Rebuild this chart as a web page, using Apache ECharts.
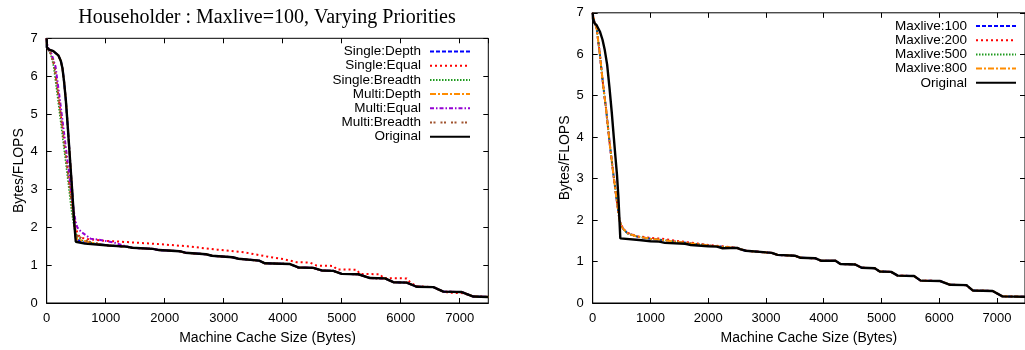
<!DOCTYPE html>
<html>
<head>
<meta charset="utf-8">
<script src="https://cdn.jsdelivr.net/npm/echarts@6/dist/echarts.min.js"></script>
<style>
html,body{margin:0;padding:0;background:#fff;}
#chart{width:1025px;height:350px;}
</style>
</head>
<body>
<div id="chart"></div>
<script>
// ---------- data (x = machine cache size in bytes, y = bytes/FLOPS) ----------
const xTicks = [0, 1000, 2000, 3000, 4000, 5000, 6000, 7000];
const yTicks = [0, 1, 2, 3, 4, 5, 6, 7];
const leftTitle = 'Householder : Maxlive=100, Varying Priorities';
const leftNames = ['Single:Depth', 'Single:Equal', 'Single:Breadth', 'Multi:Depth', 'Multi:Equal', 'Multi:Breadth', 'Original'];
const rightNames = ['Maxlive:100', 'Maxlive:200', 'Maxlive:500', 'Maxlive:800', 'Original'];

// left chart: shared staircase tail (all series except Single:Equal sit on it)
const leftTail = [[1050,1.52],[1350,1.49],[1450,1.46],[1800,1.43],[1900,1.40],[2250,1.37],[2350,1.33],[2700,1.29],[2800,1.25],[3150,1.21],[3250,1.17],[3600,1.12],[3700,1.05],[4124,1.03],[4265,0.94],[4519,0.93],[4661,0.86],[4858,0.85],[5000,0.77],[5282,0.76],[5480,0.66],[5734,0.65],[5876,0.55],[6102,0.54],[6271,0.43],[6554,0.42],[6723,0.30],[7034,0.29],[7232,0.17],[7485,0.16]];
const leftOriginalHead = [[0,7.0],[3,6.76],[40,6.7],[113,6.66],[197,6.55],[240,6.4],[268,6.2],[295,5.85],[325,5.35],[360,4.6],[395,3.8],[435,2.9],[470,2.05],[493,1.62],[520,1.6],[650,1.57],[900,1.54]];
const singleDepthHead = [[0,7.0],[3,6.76],[40,6.7],[113,6.66],[197,6.55],[240,6.4],[268,6.2],[295,5.85],[325,5.35],[360,4.6],[395,3.8],[435,2.9],[470,2.05],[495,1.7],[560,1.64],[700,1.6],[900,1.55]];
const multiDepthHead = [[0,7.0],[3,6.76],[40,6.7],[113,6.66],[197,6.55],[240,6.4],[268,6.2],[295,5.85],[325,5.35],[360,4.6],[395,3.8],[435,2.9],[470,2.05],[495,1.75],[520,1.68],[690,1.62],[900,1.55]];
const singleBreadthHead = [[0,7.0],[5,6.85],[25,6.7],[60,6.6],[90,6.45],[118,6.25],[188,5.4],[256,4.55],[328,3.65],[378,3.0],[415,2.5],[455,2.1],[490,1.85],[520,1.75],[600,1.65],[800,1.58],[1000,1.53]];
const multiEqualHead = [[0,7.0],[5,6.85],[35,6.7],[80,6.6],[110,6.45],[150,6.25],[222,5.4],[290,4.55],[362,3.65],[412,3.0],[452,2.5],[490,2.15],[515,2.02],[540,1.95],[621,1.84],[746,1.7],[858,1.68],[1000,1.64],[1141,1.6],[1300,1.52]];
const multiBreadthHead = [[0,7.0],[5,6.85],[30,6.7],[70,6.6],[100,6.45],[133,6.25],[205,5.4],[273,4.55],[345,3.65],[395,3.0],[434,2.5],[470,2.1],[500,1.85],[519,1.79],[620,1.68],[750,1.61],[900,1.56]];
const singleEqual = [[0,7.0],[5,6.85],[30,6.7],[70,6.6],[100,6.45],[133,6.25],[205,5.4],[273,4.55],[345,3.65],[395,3.0],[434,2.6],[480,2.15],[510,1.9],[540,1.78],[600,1.72],[700,1.69],[944,1.65],[1368,1.61],[1877,1.56],[2385,1.50],[2894,1.41],[3346,1.34],[3800,1.21],[4010,1.16],[4237,1.08],[4463,1.07],[4576,0.99],[4858,0.98],[4915,0.89],[5254,0.88],[5310,0.77],[5650,0.76],[5706,0.66],[6102,0.65],[6158,0.55],[6271,0.44],[6554,0.42],[6723,0.30],[6836,0.27],[7062,0.26],[7232,0.17],[7485,0.16]];

// right chart
const rightTail = [[2500,1.33],[2550,1.30],[2650,1.26],[3003,1.22],[3100,1.21],[3200,1.16],[3500,1.14],[3600,1.09],[3850,1.08],[3950,1.02],[4204,1.02],[4289,0.94],[4544,0.93],[4657,0.85],[4884,0.84],[4969,0.76],[5168,0.75],[5281,0.66],[5564,0.65],[5678,0.54],[6018,0.53],[6188,0.44],[6471,0.43],[6584,0.30],[6924,0.29],[7094,0.16],[7485,0.15]];
const rightOriginalHead = [[0,7.0],[5,6.85],[30,6.75],[68,6.7],[124,6.55],[170,6.35],[209,6.1],[250,5.75],[290,5.2],[330,4.6],[365,4.0],[395,3.5],[420,3.1],[445,2.55],[465,1.95],[478,1.56],[485,1.53],[804,1.52],[1003,1.49],[1150,1.48],[1250,1.45],[1600,1.43],[1700,1.40],[2000,1.37],[2150,1.36],[2250,1.32]];
const maxlive100Head = [[0,7.0],[10,6.9],[30,6.78],[68,6.63],[124,6.0],[181,5.25],[230,4.7],[294,3.85],[350,3.2],[408,2.56],[464,1.99],[521,1.80],[606,1.68],[776,1.60],[1000,1.55],[1200,1.52],[1500,1.47],[2000,1.39],[2300,1.35]];
const maxlive200Head = [[0,7.0],[10,6.9],[30,6.78],[68,6.63],[124,6.0],[181,5.25],[230,4.7],[294,3.85],[350,3.2],[408,2.56],[464,1.99],[521,1.80],[606,1.69],[776,1.61],[1000,1.57],[1200,1.55],[1500,1.49],[2000,1.40],[2300,1.36]];
const maxlive500Head = [[0,7.0],[10,6.9],[30,6.78],[68,6.63],[124,6.0],[181,5.25],[230,4.7],[294,3.85],[350,3.2],[408,2.56],[464,1.99],[521,1.79],[606,1.67],[776,1.60],[1000,1.55],[1200,1.52],[1500,1.47],[2000,1.39],[2300,1.35]];
const maxlive800Head = [[0,7.0],[10,6.9],[30,6.78],[68,6.63],[124,6.0],[181,5.25],[230,4.7],[294,3.85],[350,3.2],[408,2.56],[464,1.99],[521,1.80],[606,1.68],[776,1.60],[1000,1.55],[1200,1.52],[1500,1.47],[2000,1.39],[2300,1.35]];

// ---------- chart ----------
const X_MAX = 7485;
const SANS = 'Liberation Sans';
const chart = echarts.init(document.getElementById('chart'), null, {renderer: 'canvas'});

function xAx(grid, top) {
  return {
    type: 'value', gridIndex: grid, min: xTicks[0], max: X_MAX, interval: xTicks[1] - xTicks[0],
    position: top ? 'top' : 'bottom',
    name: top ? '' : 'Machine Cache Size (Bytes)', nameLocation: 'middle', nameGap: 28,
    nameTextStyle: {fontFamily: SANS, fontSize: 14, color: '#000'},
    axisLine: {show: !top, onZero: false, lineStyle: {color: '#000', width: 1}},
    axisTick: {show: true, inside: true, length: 5, lineStyle: {color: '#000', width: 1}},
    axisLabel: {show: !top, margin: 9, fontFamily: SANS, fontSize: 13, color: '#000', showMaxLabel: false,
      formatter: v => (xTicks.indexOf(v) >= 0 ? String(v) : '')},
    splitLine: {show: false}
  };
}
function yAx(grid, right) {
  return {
    type: 'value', gridIndex: grid, min: yTicks[0], max: yTicks[yTicks.length - 1], interval: 1,
    position: right ? 'right' : 'left',
    name: right ? '' : 'Bytes/FLOPS', nameLocation: 'middle', nameGap: 21,
    nameTextStyle: {fontFamily: SANS, fontSize: 14, color: '#000'},
    axisLine: {show: !right, onZero: false, lineStyle: {color: '#000', width: 1}},
    axisTick: {show: true, inside: true, length: 5, lineStyle: {color: '#000', width: 1}},
    axisLabel: {show: !right, margin: 9, fontFamily: SANS, fontSize: 13, color: '#000'},
    splitLine: {show: false}
  };
}

const styles = {
  'Single:Depth':   {color: '#0000ff', type: [4, 2], width: 2},
  'Single:Equal':   {color: '#ff0000', type: [2, 3], width: 2},
  'Single:Breadth': {color: '#1f9a1f', type: [1.5, 1.5], width: 1.6},
  'Multi:Depth':    {color: '#ff8c00', type: [6, 2, 2, 2], width: 2},
  'Multi:Equal':    {color: '#9400d3', type: [4, 2, 1.5, 2], width: 2},
  'Multi:Breadth':  {color: '#a0522d', type: [2, 1.5, 2, 5], width: 2},
  'Maxlive:100':    {color: '#0000ff', type: [4, 2], width: 2},
  'Maxlive:200':    {color: '#ff0000', type: [2, 3], width: 2},
  'Maxlive:500':    {color: '#1f9a1f', type: [1.5, 1.5], width: 1.6},
  'Maxlive:800':    {color: '#ff8c00', type: [6, 2, 2, 2], width: 2},
  'Original':       {color: '#000000', type: 'solid', width: 2.4}
};
function ser(name, data, side) {
  const s = styles[name];
  return {
    type: 'line', name: name, data: data, xAxisIndex: side * 2, yAxisIndex: side * 2,
    symbol: 'none', showSymbol: false, smooth: false, clip: true, animation: false,
    color: s.color,
    lineStyle: {color: s.color, type: s.type, width: s.width},
    emphasis: {disabled: true}
  };
}

const series = [
  ser('Single:Depth', singleDepthHead.concat(leftTail), 0),
  ser('Single:Equal', singleEqual, 0),
  ser('Single:Breadth', singleBreadthHead.concat(leftTail), 0),
  ser('Multi:Depth', multiDepthHead.concat(leftTail), 0),
  ser('Multi:Equal', multiEqualHead.concat(leftTail.slice(2)), 0),
  ser('Multi:Breadth', multiBreadthHead.concat(leftTail), 0),
  ser('Original', leftOriginalHead.concat(leftTail), 0),
  ser('Maxlive:100', maxlive100Head.concat(rightTail), 1),
  ser('Maxlive:200', maxlive200Head.concat(rightTail), 1),
  ser('Maxlive:500', maxlive500Head.concat(rightTail), 1),
  ser('Maxlive:800', maxlive800Head.concat(rightTail), 1),
  ser('Original', rightOriginalHead.concat(rightTail), 1)
];

function legend(names, right, top) {
  return {
    data: names, orient: 'vertical', right: right, top: top, align: 'right',
    itemWidth: 40, itemHeight: 14, itemGap: 0.2, padding: 0, selectedMode: false,
    itemStyle: {opacity: 0},
    textStyle: {fontFamily: SANS, fontSize: 13.5, color: '#000', padding: [0, 4, 0, 0]}
  };
}

chart.setOption({
  animation: false,
  backgroundColor: '#fff',
  title: [{
    text: leftTitle, left: 267, top: 8, textAlign: 'center', padding: 0,
    textStyle: {fontFamily: 'Liberation Serif', fontSize: 20, fontWeight: 'normal', color: '#000'}
  }],
  grid: [
    {left: 46.7, top: 38.3, width: 441.6, bottom: 40.5, show: true, borderColor: '#000', borderWidth: 1, containLabel: false},
    {left: 592.7, top: 12.8, width: 440.4, bottom: 40.5, show: true, borderColor: '#000', borderWidth: 1, containLabel: false}
  ],
  xAxis: [xAx(0, false), xAx(0, true), xAx(1, false), xAx(1, true)],
  yAxis: [yAx(0, false), yAx(0, true), yAx(1, false), yAx(1, true)],
  legend: [legend(leftNames, 554, 44.5), legend(rightNames, 8, 19)],
  series: series
});
</script>
</body>
</html>
